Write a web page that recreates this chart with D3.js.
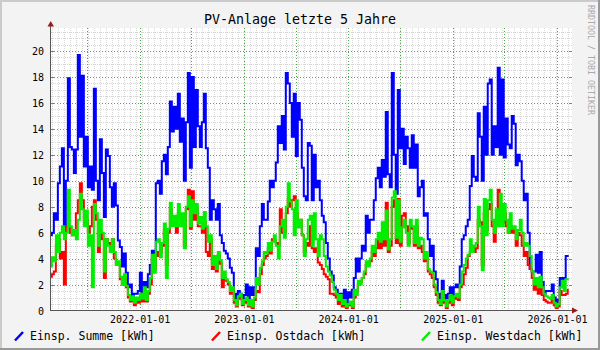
<!DOCTYPE html>
<html>
<head>
<meta charset="utf-8">
<script src="https://cdn.jsdelivr.net/npm/d3@7"></script>
<style>
  html, body { margin: 0; padding: 0; background: #f3f3f3; }
  svg { display: block; }
  text { font-family: "DejaVu Sans Mono", monospace; }
</style>
</head>
<body>
<svg id="chart" width="600" height="350"></svg>
<script>
// Daily yield (kWh), one value per week, starting on firstWeek
const title = "PV-Anlage letzte 5 Jahre";
const watermark = "RRDTOOL / TOBI OETIKER";
const seriesNames = ["Einsp. Summe [kWh]", "Einsp. Ostdach [kWh]", "Einsp. Westdach [kWh]"];
const seriesColors = ["#0000ff", "#ff0000", "#00ee00"];
const firstWeek = "2021-02-24";
const lastDay = "2026-02-22T12:00:00Z";
const firstDay = "2021-02-24T12:00:00Z";

const summe = [
  5.8, 6.0, 7.5, 7.0, 9.8, 11.1, 12.5, 6.5, 10.0, 17.9,
  12.6, 12.4, 10.6, 12.4, 19.7, 13.4, 18.1, 11.1, 13.4, 9.5,
  11.1, 9.3, 17.1, 10.0, 8.5, 13.2, 10.6, 7.2, 12.4, 11.9,
  9.5, 8.0, 9.8, 8.1, 5.4, 4.9, 3.4, 4.4, 2.9, 1.8,
  2.0, 0.8, 1.3, 1.3,
  1.5, 2.9, 1.2, 2.2, 1.8, 2.8, 3.5, 4.6, 4.2, 9.8,
  10.0, 9.0, 11.5, 12.0, 10.5, 12.6, 16.1, 13.8, 15.7, 14.0,
  16.7, 13.0, 14.8, 10.0, 14.5, 18.3, 11.0, 18.0, 12.6, 17.0,
  14.2, 12.6, 14.5, 16.7, 12.5, 11.0, 7.0, 8.5, 7.8, 7.0,
  8.2, 5.8, 5.2, 4.6,
  4.4, 4.0, 3.3, 2.9, 1.3, 0.6, 1.5, 1.3, 0.8, 1.2,
  2.0, 0.8, 1.8, 1.2, 1.8, 4.8, 4.2, 6.5, 8.2, 7.0,
  7.0, 8.4, 10.0, 9.5, 10.0, 11.4, 14.2, 12.9, 15.0, 12.4,
  18.3, 17.5, 16.0, 13.4, 16.7, 11.9, 16.0, 14.7, 11.0, 8.8,
  8.5, 12.9, 12.7, 8.5,
  12.0, 9.5, 10.0, 8.5, 7.3, 6.8, 5.2, 4.0, 3.0, 2.7,
  1.8, 1.6, 1.0, 1.3, 0.8, 1.6, 0.6, 1.4, 1.0, 1.6,
  2.5, 4.0, 3.0, 4.0, 5.0, 4.6, 7.3, 6.0, 7.0, 7.0,
  8.5, 10.2, 11.0, 9.5, 11.6, 10.3, 15.3, 10.5, 9.5, 18.3,
  12.0, 9.0, 17.0, 12.5,
  14.0, 11.3, 13.4, 12.5, 11.0, 13.5, 11.0, 12.8, 8.8, 9.5,
  10.0, 7.3, 7.5, 5.5, 4.2, 5.0, 3.0, 2.4, 1.3, 0.8,
  2.3, 1.2, 0.8, 1.3, 1.8, 1.0, 1.8, 2.0, 1.8, 3.4,
  5.5, 5.8, 6.5, 7.0, 9.6, 11.9, 10.3, 10.0, 15.2, 13.4,
  10.0, 15.7, 12.0, 17.5,
  17.8, 12.0, 14.2, 12.6, 18.7, 12.0, 17.8, 11.8, 14.8, 12.8,
  12.5, 15.0, 14.4, 11.2, 12.0, 11.5, 10.0, 8.5, 9.0, 6.0,
  3.2, 3.0, 3.0, 4.3, 2.9, 4.5, 2.2, 1.3, 1.5, 1.5,
  1.5, 2.0, 1.0, 0.3, 0.8, 2.5, 1.8, 2.5, 4.2, 4.2
];

const ostdach = [
  2.6, 2.8, 3.0, 5.0, 5.5, 4.0, 4.5, 2.0, 6.5, 6.5,
  6.0, 5.8, 6.2, 7.5, 8.5, 9.8, 8.5, 7.0, 7.0, 6.0,
  6.5, 8.0, 8.5, 7.0, 4.5, 6.0, 5.5, 2.5, 5.5, 5.2,
  4.5, 5.5, 4.0, 3.5, 3.5, 2.4, 2.0, 2.5, 1.8, 1.0,
  0.7, 0.9, 0.4, 0.7,
  0.6, 1.0, 0.7, 1.5, 0.7, 1.3, 2.0, 3.8, 3.2, 4.5,
  4.2, 4.5, 5.0, 6.2, 3.5, 6.0, 7.8, 6.8, 7.0, 6.0,
  7.5, 6.8, 7.0, 5.0, 7.8, 9.3, 6.3, 9.2, 7.0, 7.8,
  6.5, 6.5, 6.0, 6.8, 4.5, 4.2, 5.5, 3.2, 4.0, 3.0,
  4.3, 3.6, 1.8, 2.5,
  2.3, 2.0, 1.3, 1.6, 0.6, 0.3, 0.9, 1.0, 0.4, 0.6,
  0.8, 0.3, 0.6, 0.2, 0.8, 1.5, 1.4, 2.8, 3.5, 4.0,
  4.2, 4.8, 4.4, 5.5, 5.4, 5.2, 5.0, 7.8, 6.0, 6.0,
  7.5, 8.6, 8.0, 8.5, 8.8, 7.5, 7.0, 7.0, 5.8, 4.5,
  5.2, 5.0, 6.5, 4.8,
  4.5, 4.8, 3.7, 3.5, 3.2, 2.8, 2.6, 2.4, 1.3, 1.3,
  1.2, 1.0, 0.5, 0.8, 0.3, 0.5, 0.2, 0.4, 0.5, 0.2,
  1.0, 1.4, 2.0, 2.2, 2.5, 2.8, 3.5, 3.5, 3.8, 4.5,
  4.2, 4.8, 5.5, 4.8, 5.5, 5.0, 8.3, 4.5, 5.0, 8.0,
  8.5, 5.2, 8.6, 5.0,
  7.3, 7.5, 6.5, 5.2, 6.5, 6.3, 5.0, 6.5, 4.8, 5.0,
  4.5, 3.8, 4.0, 3.0, 2.8, 2.5, 1.8, 1.2, 0.6, 0.4,
  1.2, 0.6, 0.2, 0.6, 1.0, 0.4, 0.9, 1.0, 0.8, 1.8,
  2.0, 2.8, 3.3, 4.2, 4.5, 5.0, 4.5, 4.8, 7.0, 6.8,
  3.5, 7.5, 6.2, 7.8,
  8.2, 6.5, 5.3, 6.8, 9.3, 7.5, 6.8, 7.5, 6.5, 6.0,
  6.5, 6.0, 6.2, 5.0, 6.0, 5.8, 5.0, 4.2, 4.5, 3.5,
  3.2, 2.5, 1.6, 2.0, 1.3, 2.0, 1.2, 0.8, 0.7, 0.6,
  0.6, 0.8, 0.4, 0.2, 0.3, 1.5, 1.2, 1.2, 1.3, 1.6
];

const westdach = [
  3.4, 4.1, 3.8, 5.8, 4.5, 6.0, 6.5, 5.5, 6.0, 9.3,
  6.5, 5.8, 6.2, 5.5, 7.0, 9.0, 7.8, 6.5, 7.7, 5.0,
  5.8, 1.8, 8.2, 7.5, 5.0, 7.0, 6.0, 3.0, 5.5, 5.0,
  4.5, 5.5, 4.5, 3.5, 3.8, 2.6, 2.0, 2.8, 1.9, 1.2,
  0.8, 1.1, 0.6, 1.0,
  0.8, 1.3, 0.9, 1.8, 0.8, 1.5, 2.5, 4.3, 2.9, 5.3,
  5.5, 4.1, 5.2, 6.7, 2.5, 6.3, 8.3, 6.5, 7.3, 6.5,
  8.2, 6.5, 7.5, 4.8, 8.0, 8.8, 6.5, 8.5, 7.5, 8.2,
  6.7, 7.2, 6.3, 7.6, 6.5, 5.3, 5.8, 3.5, 4.2, 3.2,
  4.5, 3.9, 2.5, 3.0,
  2.4, 2.2, 1.5, 1.8, 0.8, 0.4, 1.1, 1.3, 0.5, 0.8,
  1.0, 0.4, 0.8, 0.3, 1.0, 2.5, 2.0, 3.3, 3.8, 4.5,
  4.4, 5.2, 4.6, 5.3, 5.8, 5.0, 4.0, 6.5, 7.0, 5.6,
  8.0, 9.8, 8.4, 7.8, 5.8, 8.5, 6.4, 7.0, 5.8, 4.2,
  5.5, 7.0, 7.3, 5.0,
  7.5, 5.5, 4.2, 5.8, 5.5, 4.2, 3.4, 3.0, 2.7, 2.2,
  1.6, 1.3, 0.8, 1.2, 0.5, 0.8, 0.3, 0.5, 0.7, 0.3,
  1.6, 1.2, 2.3, 2.0, 2.5, 3.0, 3.8, 3.4, 4.0, 5.0,
  4.5, 5.5, 6.0, 5.3, 6.8, 5.5, 7.7, 4.7, 5.5, 8.7,
  9.2, 5.6, 8.5, 5.3,
  6.4, 7.0, 6.0, 5.0, 7.0, 6.5, 5.2, 7.0, 5.0, 5.6,
  5.5, 4.0, 4.5, 3.2, 3.0, 2.9, 2.0, 1.4, 0.8, 0.5,
  1.5, 0.8, 0.3, 0.8, 1.2, 0.6, 1.1, 1.3, 1.0, 2.0,
  3.0, 3.5, 4.0, 4.3, 5.5, 4.5, 5.0, 5.2, 8.0, 6.5,
  3.1, 8.6, 5.8, 8.5,
  9.3, 7.0, 6.0, 7.8, 6.5, 9.0, 6.5, 8.2, 7.0, 6.0,
  7.5, 6.3, 6.5, 5.5, 6.2, 7.0, 6.0, 5.0, 5.2, 5.0,
  4.2, 3.0, 2.0, 2.5, 1.8, 2.6, 1.8, 1.3, 1.1, 1.0,
  0.9, 1.2, 0.6, 0.3, 0.5, 1.8, 2.3, 1.5, 2.4, 2.4
];

const yTicks = [0, 2, 4, 6, 8, 10, 12, 14, 16, 18, 20];
const xTickLabels = ["2022-01-01", "2023-01-01", "2024-01-01", "2025-01-01", "2026-01-01"];

// ---- layout
const W = 600, H = 350;
const plot = { left: 51, right: 572, top: 28, bottom: 311 };

const svg = d3.select("#chart");

svg.append("rect").attr("width", W).attr("height", H).attr("fill", "#f3f3f3");
// 3D frame: light top/left, dark bottom/right
svg.append("rect").attr("x", 0).attr("y", 0).attr("width", W).attr("height", 2).attr("fill", "#cbcbcb");
svg.append("rect").attr("x", 0).attr("y", 0).attr("width", 2).attr("height", H).attr("fill", "#cbcbcb");
svg.append("rect").attr("x", 0).attr("y", H - 2).attr("width", W).attr("height", 2).attr("fill", "#999999");
svg.append("rect").attr("x", W - 2).attr("y", 0).attr("width", 2).attr("height", H).attr("fill", "#999999");

svg.append("rect")
  .attr("x", plot.left).attr("y", plot.top)
  .attr("width", plot.right - plot.left).attr("height", plot.bottom - plot.top)
  .attr("fill", "#ffffff");

const parse = d3.utcParse("%Y-%m-%d");
const x = d3.scaleUtc()
  .domain([new Date(firstDay), new Date(lastDay)])
  .range([plot.left, plot.right]);
const y = d3.scaleLinear()
  .domain([0, 20])
  .range([310.5, 51]);

const start = parse(firstWeek);
const dates = summe.map((_, i) => d3.utcDay.offset(start, 7 * i));

const grid = svg.append("g").attr("shape-rendering", "crispEdges");
const px = v => Math.round(v) + 0.5;

// minor grid
const minorY = d3.range(0.5, 21.75, 0.5).filter(v => v % 2 !== 0);
grid.selectAll(".minor-h").data(minorY).join("line")
  .attr("x1", plot.left).attr("x2", plot.right)
  .attr("y1", d => px(y(d))).attr("y2", d => px(y(d)))
  .attr("stroke", "#d6d6d6").attr("stroke-dasharray", "1,1");
const minorX = d3.utcMonday.range(x.domain()[0], x.domain()[1]).filter((d, i) => i % 3 === 0);
grid.selectAll(".minor-v").data(minorX).join("line")
  .attr("x1", d => px(x(d))).attr("x2", d => px(x(d)))
  .attr("y1", plot.top).attr("y2", plot.bottom)
  .attr("stroke", "#d6d6d6").attr("stroke-dasharray", "1,1");

// major grid
const majorX = d3.utcMonth.every(6).range(x.domain()[0], x.domain()[1]);
grid.selectAll(".major-v").data(majorX).join("line")
  .attr("x1", d => px(x(d))).attr("x2", d => px(x(d)))
  .attr("y1", plot.top).attr("y2", plot.bottom)
  .attr("stroke", "#44b044").attr("stroke-dasharray", "1,2");
grid.selectAll(".major-h").data(yTicks.filter(v => v > 0)).join("line")
  .attr("x1", plot.left).attr("x2", plot.right)
  .attr("y1", d => px(y(d))).attr("y2", d => px(y(d)))
  .attr("stroke", "#44b044").attr("stroke-dasharray", "1,2");
// solid end ticks on the major grid
grid.selectAll(".tick-h").data(yTicks.filter(v => v > 0)).join("path")
  .attr("d", d => `M${plot.left},${px(y(d))}h3M${plot.right - 3},${px(y(d))}h3`)
  .attr("stroke", "#44b044");

// series lines
const line = d3.line()
  .x((d, i) => x(dates[i]))
  .y(d => y(d))
  .curve(d3.curveStep);

[summe, ostdach, westdach].forEach((vals, k) => {
  svg.append("path")
    .datum(vals)
    .attr("d", line)
    .attr("fill", "none")
    .attr("stroke", seriesColors[k])
    .attr("stroke-width", 2);
});

// axes lines and arrows
const axisG = svg.append("g").attr("shape-rendering", "crispEdges");
axisG.append("line").attr("x1", 50.5).attr("x2", 50.5).attr("y1", 311).attr("y2", 25)
  .attr("stroke", "#555555");
axisG.append("line").attr("x1", 50).attr("x2", 573).attr("y1", 310.5).attr("y2", 310.5)
  .attr("stroke", "#555555");
svg.append("path").attr("d", "M47.5,26.5L54,26.5L50.7,21Z").attr("fill", "#9a1a1a");
svg.append("path").attr("d", "M572,307.5L572,313.5L578,310.5Z").attr("fill", "#9a1a1a");

// tick labels
const yAxis = svg.append("g")
  .attr("transform", `translate(${plot.left},0)`)
  .call(d3.axisLeft(y).tickValues(yTicks).tickSize(0).tickPadding(7).tickFormat(d3.format("d")));
yAxis.select(".domain").remove();
yAxis.selectAll("text").attr("font-family", "DejaVu Sans Mono").attr("font-size", 10)
  .attr("fill", "#000").attr("dy", "0.37em");

const xAxis = svg.append("g")
  .attr("transform", `translate(0,${plot.bottom})`)
  .call(d3.axisBottom(x).tickValues(xTickLabels.map(parse)).tickSize(0).tickPadding(5)
    .tickFormat(d3.utcFormat("%Y-%m-%d")));
xAxis.select(".domain").remove();
xAxis.selectAll("text").attr("font-family", "DejaVu Sans Mono").attr("font-size", 10).attr("fill", "#000");

// title
svg.append("text")
  .attr("x", 300).attr("y", 23.5)
  .attr("text-anchor", "middle")
  .attr("font-size", 13.3)
  .attr("fill", "#000")
  .text(title);

// watermark
svg.append("text")
  .attr("transform", "translate(588,5) rotate(90)")
  .attr("font-size", 8.3)
  .attr("fill", "#aaaaaa")
  .text(watermark);

// legend
const legendX = [15, 212, 422];
const legend = svg.append("g");
seriesNames.forEach((name, k) => {
  legend.append("line")
    .attr("x1", legendX[k]).attr("y1", 340.5)
    .attr("x2", legendX[k] + 8).attr("y2", 332)
    .attr("stroke", seriesColors[k]).attr("stroke-width", 2.5);
  legend.append("text")
    .attr("x", legendX[k] + 15).attr("y", 339.5)
    .attr("font-size", 11.5)
    .attr("fill", "#000")
    .text(name);
});
</script>
</body>
</html>
